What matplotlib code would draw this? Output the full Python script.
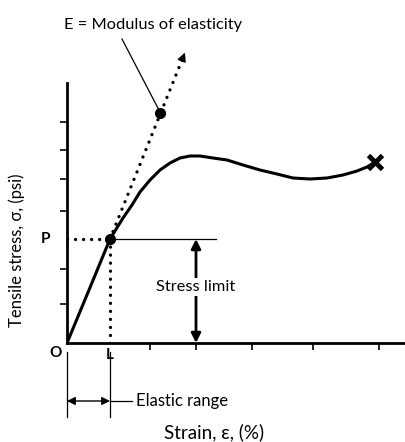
import numpy as np
import matplotlib.pyplot as plt

plt.rcParams['font.family'] = ['Lato', 'DejaVu Sans']

# stress-strain curve (arbitrary units)
strain = [0.0, 2.2, 4.3, 5.6, 6.5, 7.3, 8.3, 9.3, 10.3, 11.3, 12.3, 13.3, 14.6, 16.0,
          17.6, 19.3, 21.0, 22.6, 24.3, 26.0, 27.6, 29.0, 30.0, 30.8]
stress = [0.0, 5.3, 10.4, 12.5, 13.8, 15.1, 16.3, 17.3, 18.0, 18.5, 18.7, 18.7, 18.5, 18.3,
          17.8, 17.3, 16.9, 16.5, 16.4, 16.5, 16.8, 17.2, 17.6, 18.1]

# proportional limit
L_val = 4.3
P_val = 10.4
# modulus line: point, tip
E_dot = (9.35, 23.0)
E_tip = (11.9, 29.3)
E_label = (8.6, 31.8)
E_pointer = (5.5, 30.4)

x_ticks = [8.3, 12.9, 18.5, 24.6, 31.2]
y_ticks = [3.9, 7.4, 13.2, 16.4, 19.3, 22.1]
stress_limit_x = 12.9
stress_limit_end = 14.9

fig = plt.figure(figsize=(4.06, 4.42), dpi=100)
ax = fig.add_axes([67/406, 99/442, 339/406, 260/442])
ax.set_xlim(0, 33.9)
ax.set_ylim(0, 26.0)

for s in ['top', 'right']:
    ax.spines[s].set_visible(False)
for s in ['left', 'bottom']:
    ax.spines[s].set_linewidth(2.0)

ax.set_xticks(x_ticks)
ax.set_yticks(y_ticks)
ax.set_xticklabels([])
ax.set_yticklabels([])
ax.tick_params(direction='out', length=5, width=1.2)

# curve
ax.plot(strain, stress, color='k', lw=2.2, solid_capstyle='round', solid_joinstyle='round', zorder=3)
ax.plot(strain[-1], stress[-1], marker='x', color='k', ms=10, mew=3.5, zorder=4)

dotted = dict(color='k', lw=2.4, linestyle=(0, (0.01, 2.4)), dash_capstyle='round')
# P and L guides
ax.plot([0, L_val], [P_val, P_val], **dotted)
ax.plot([L_val, L_val], [0, P_val], **dotted)
ax.plot([L_val, stress_limit_end], [P_val, P_val], color='k', lw=0.9)

# modulus line
ax.plot([L_val, E_tip[0] - 0.2], [P_val, E_tip[1] - 0.5], clip_on=False, **dotted)
ax.annotate('', xy=E_tip, xytext=(E_tip[0] - 0.5, E_tip[1] - 1.25),
            arrowprops=dict(arrowstyle='-|>', mutation_scale=13, color='k', lw=1),
            annotation_clip=False)
ax.plot(*E_dot, 'o', color='k', ms=7, clip_on=False, zorder=5)
ax.plot(L_val, P_val, 'o', color='k', ms=7, zorder=5)
ax.plot([E_pointer[0], E_dot[0]], [E_pointer[1], E_dot[1]], color='k', lw=0.9, clip_on=False)
ax.text(E_label[0], E_label[1], 'E = Modulus of elasticity', ha='center', va='center',
        fontsize=11.8, clip_on=False)

# stress limit
ax.annotate('', xy=(stress_limit_x, P_val), xytext=(stress_limit_x, 0),
            arrowprops=dict(arrowstyle='<|-|>', mutation_scale=14, color='k', lw=2,
                            shrinkA=0, shrinkB=0))
ax.text(stress_limit_x, 5.6, 'Stress limit', ha='center', va='center', fontsize=11.8,
        bbox=dict(facecolor='white', edgecolor='none', pad=1.5), zorder=6)

# elastic range
ax.plot([0, 0], [-0.9, -7.4], color='k', lw=0.9, clip_on=False)
ax.plot([L_val, L_val], [-0.9, -7.4], color='k', lw=0.9, clip_on=False)
ax.annotate('', xy=(0, -5.8), xytext=(L_val, -5.8),
            arrowprops=dict(arrowstyle='<|-|>', mutation_scale=12, color='k', lw=1,
                            shrinkA=0, shrinkB=0), annotation_clip=False)
ax.plot([L_val, L_val + 2.2], [-5.8, -5.8], color='k', lw=0.9, clip_on=False)
ax.text(L_val + 2.6, -5.8, 'Elastic range', ha='left', va='center', fontsize=12, clip_on=False)

# letters
ax.text(-1.1, -1.0, 'O', ha='center', va='center', fontsize=11, fontweight='bold', clip_on=False)
ax.text(L_val, -1.2, 'L', ha='center', va='center', fontsize=11, fontweight='bold', clip_on=False)
ax.text(-2.1, P_val, 'P', ha='center', va='center', fontsize=11, fontweight='bold', clip_on=False)

ax.text(14.7, -8.9, 'Strain, ε, (%)', ha='center', va='center', fontsize=13.5, clip_on=False)
ax.text(-5.0, 9.3, 'Tensile stress, σ, (psi)', ha='center', va='center', fontsize=12,
        rotation=90, clip_on=False)

fig.savefig('out.png', dpi=100)
